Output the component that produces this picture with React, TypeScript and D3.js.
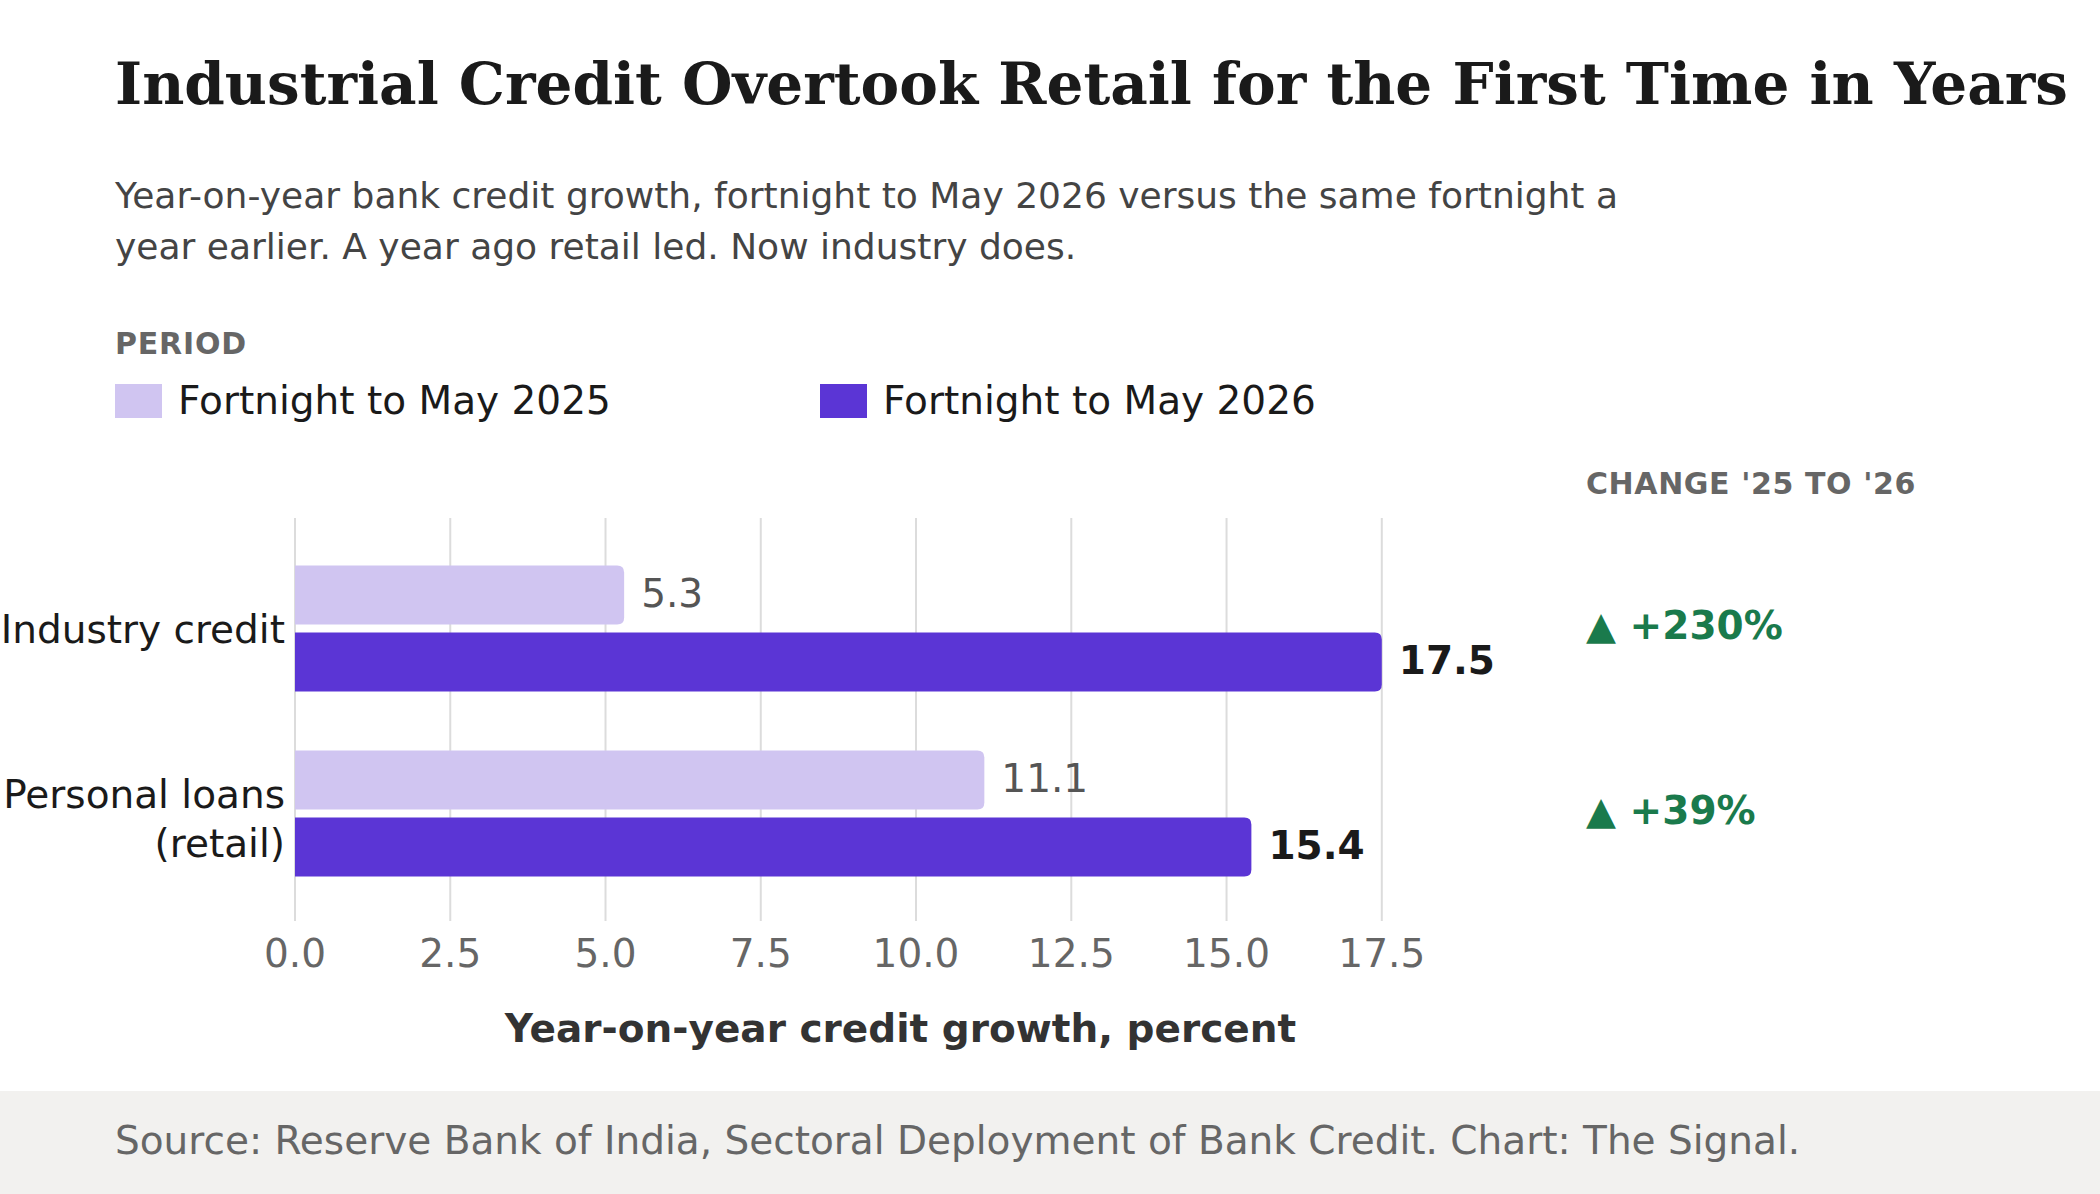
import React, { useRef, useEffect } from "react";
import * as d3 from "d3";

// data
const categories = ["Industry credit", "Personal loans (retail)"];
const categoryLines = [["Industry credit"], ["Personal loans", "(retail)"]];
const periods = ["Fortnight to May 2025", "Fortnight to May 2026"];
const values2025 = [5.3, 11.1];
const values2026 = [17.5, 15.4];
const xTicks = [0, 2.5, 5, 7.5, 10, 12.5, 15, 17.5];

const W = 2100;
const H = 1194;
const SANS = "'DejaVu Sans', sans-serif";
const SERIF = "'DejaVu Serif', serif";
const LIGHT = "#d0c5f1";
const DARK = "#5b35d5";
const GREEN = "#1a7a4c";

// bar with square left side, rounded right side
function barPath(x0, y, w, h, r) {
  r = Math.min(r, w / 2, h / 2);
  return `M${x0},${y}H${x0 + w - r}Q${x0 + w},${y} ${x0 + w},${y + r}V${
    y + h - r
  }Q${x0 + w},${y + h} ${x0 + w - r},${y + h}H${x0}Z`;
}

function Chart() {
  const ref = useRef(null);

  useEffect(() => {
    const svg = d3.select(ref.current);
    svg.selectAll("*").remove();

    svg.append("rect").attr("width", W).attr("height", H).attr("fill", "#fff");

    // header
    svg
      .append("text")
      .attr("x", 115)
      .attr("y", 104)
      .attr("font-family", SERIF)
      .attr("font-weight", "bold")
      .attr("font-size", 58)
      .attr("fill", "#1a1a1a")
      .text("Industrial Credit Overtook Retail for the First Time in Years");

    const sub = [
      "Year-on-year bank credit growth, fortnight to May 2026 versus the same fortnight a",
      "year earlier. A year ago retail led. Now industry does.",
    ];
    svg
      .append("g")
      .selectAll("text")
      .data(sub)
      .join("text")
      .attr("x", 115)
      .attr("y", (d, i) => 208 + i * 51)
      .attr("font-family", SANS)
      .attr("font-size", 36)
      .attr("fill", "#444")
      .text((d) => d);

    // legend
    svg
      .append("text")
      .attr("x", 115)
      .attr("y", 354)
      .attr("font-family", SANS)
      .attr("font-weight", "bold")
      .attr("font-size", 30)
      .attr("letter-spacing", 0.8)
      .attr("fill", "#666")
      .text("PERIOD");

    const colors = [LIGHT, DARK];
    const leg = svg
      .append("g")
      .selectAll("g")
      .data(periods)
      .join("g")
      .attr("transform", (d, i) => `translate(${115 + i * 705},384)`);
    leg
      .append("rect")
      .attr("width", 47)
      .attr("height", 34)
      .attr("fill", (d, i) => colors[i]);
    leg
      .append("text")
      .attr("x", 63)
      .attr("y", 30)
      .attr("font-family", SANS)
      .attr("font-size", 39)
      .attr("fill", "#1a1a1a")
      .text((d) => d);

    // scales
    const x = d3.scaleLinear().domain([0, 19.5]).range([295, 1506]);
    const y = d3.scaleBand().domain(categories).range([536, 906]);
    const inner = d3
      .scaleBand()
      .domain(periods)
      .range([y.bandwidth() / 2 - 63, y.bandwidth() / 2 + 63])
      .paddingInner(0.119);

    // grid
    svg
      .append("g")
      .selectAll("line")
      .data(xTicks)
      .join("line")
      .attr("x1", (d) => x(d))
      .attr("x2", (d) => x(d))
      .attr("y1", 518)
      .attr("y2", 921)
      .attr("stroke", "#dcdcdc")
      .attr("stroke-width", 2);

    svg
      .append("g")
      .selectAll("text")
      .data(xTicks)
      .join("text")
      .attr("x", (d) => x(d))
      .attr("y", 967)
      .attr("text-anchor", "middle")
      .attr("font-family", SANS)
      .attr("font-size", 39)
      .attr("fill", "#666")
      .text((d) => d3.format(".1f")(d));

    svg
      .append("text")
      .attr("x", (x.range()[0] + x.range()[1]) / 2)
      .attr("y", 1042)
      .attr("text-anchor", "middle")
      .attr("font-family", SANS)
      .attr("font-weight", "bold")
      .attr("font-size", 39)
      .attr("fill", "#333")
      .text("Year-on-year credit growth, percent");

    // bars
    const rows = categories.map((c, i) => ({
      cat: c,
      lines: categoryLines[i],
      v: [values2025[i], values2026[i]],
    }));

    const grp = svg
      .append("g")
      .selectAll("g")
      .data(rows)
      .join("g")
      .attr("transform", (d) => `translate(0,${y(d.cat)})`);

    periods.forEach((p, k) => {
      grp
        .append("path")
        .attr("d", (d) =>
          barPath(x(0), inner(p), x(d.v[k]) - x(0), inner.bandwidth(), 7)
        )
        .attr("fill", colors[k]);
      grp
        .append("text")
        .attr("x", (d) => x(d.v[k]) + 17)
        .attr("y", inner(p) + inner.bandwidth() / 2 + 12)
        .attr("font-family", SANS)
        .attr("font-size", 39)
        .attr("font-weight", k === 1 ? "bold" : "normal")
        .attr("fill", k === 1 ? "#1a1a1a" : "#555")
        .text((d) => d3.format(".1f")(d.v[k]));
    });

    // category labels
    grp
      .append("text")
      .attr("text-anchor", "end")
      .attr("font-family", SANS)
      .attr("font-size", 39)
      .attr("fill", "#1a1a1a")
      .each(function (d) {
        const t = d3.select(this);
        const mid = y.bandwidth() / 2;
        d.lines.forEach((l, i) => {
          t.append("tspan")
            .attr("x", 285)
            .attr("y", mid + 14 - (d.lines.length - 1) * 20 + i * 49)
            .text(l);
        });
      });

    // change column
    svg
      .append("text")
      .attr("x", 1586)
      .attr("y", 494)
      .attr("font-family", SANS)
      .attr("font-weight", "bold")
      .attr("font-size", 30)
      .attr("letter-spacing", 0.6)
      .attr("fill", "#666")
      .text("CHANGE '25 TO '26");

    grp
      .append("text")
      .attr("x", 1586)
      .attr("y", y.bandwidth() / 2 + 10)
      .attr("font-family", SANS)
      .attr("font-weight", "bold")
      .attr("font-size", 39)
      .attr("fill", GREEN)
      .text((d) => {
        const ch = ((d.v[1] - d.v[0]) / d.v[0]) * 100;
        return `${ch >= 0 ? "▲ +" : "▼ "}${Math.round(ch)}%`;
      });

    // footer
    svg
      .append("rect")
      .attr("x", 0)
      .attr("y", 1091)
      .attr("width", W)
      .attr("height", H - 1091)
      .attr("fill", "#f2f1ef");
    svg
      .append("text")
      .attr("x", 115)
      .attr("y", 1154)
      .attr("font-family", SANS)
      .attr("font-size", 39)
      .attr("fill", "#666")
      .text(
        "Source: Reserve Bank of India, Sectoral Deployment of Bank Credit. Chart: The Signal."
      );
  }, []);

  return (
    <svg
      ref={ref}
      width={W}
      height={H}
      style={{ position: "absolute", left: 0, top: 0, display: "block" }}
    />
  );
}

export default function App() {
  return <Chart />;
}
